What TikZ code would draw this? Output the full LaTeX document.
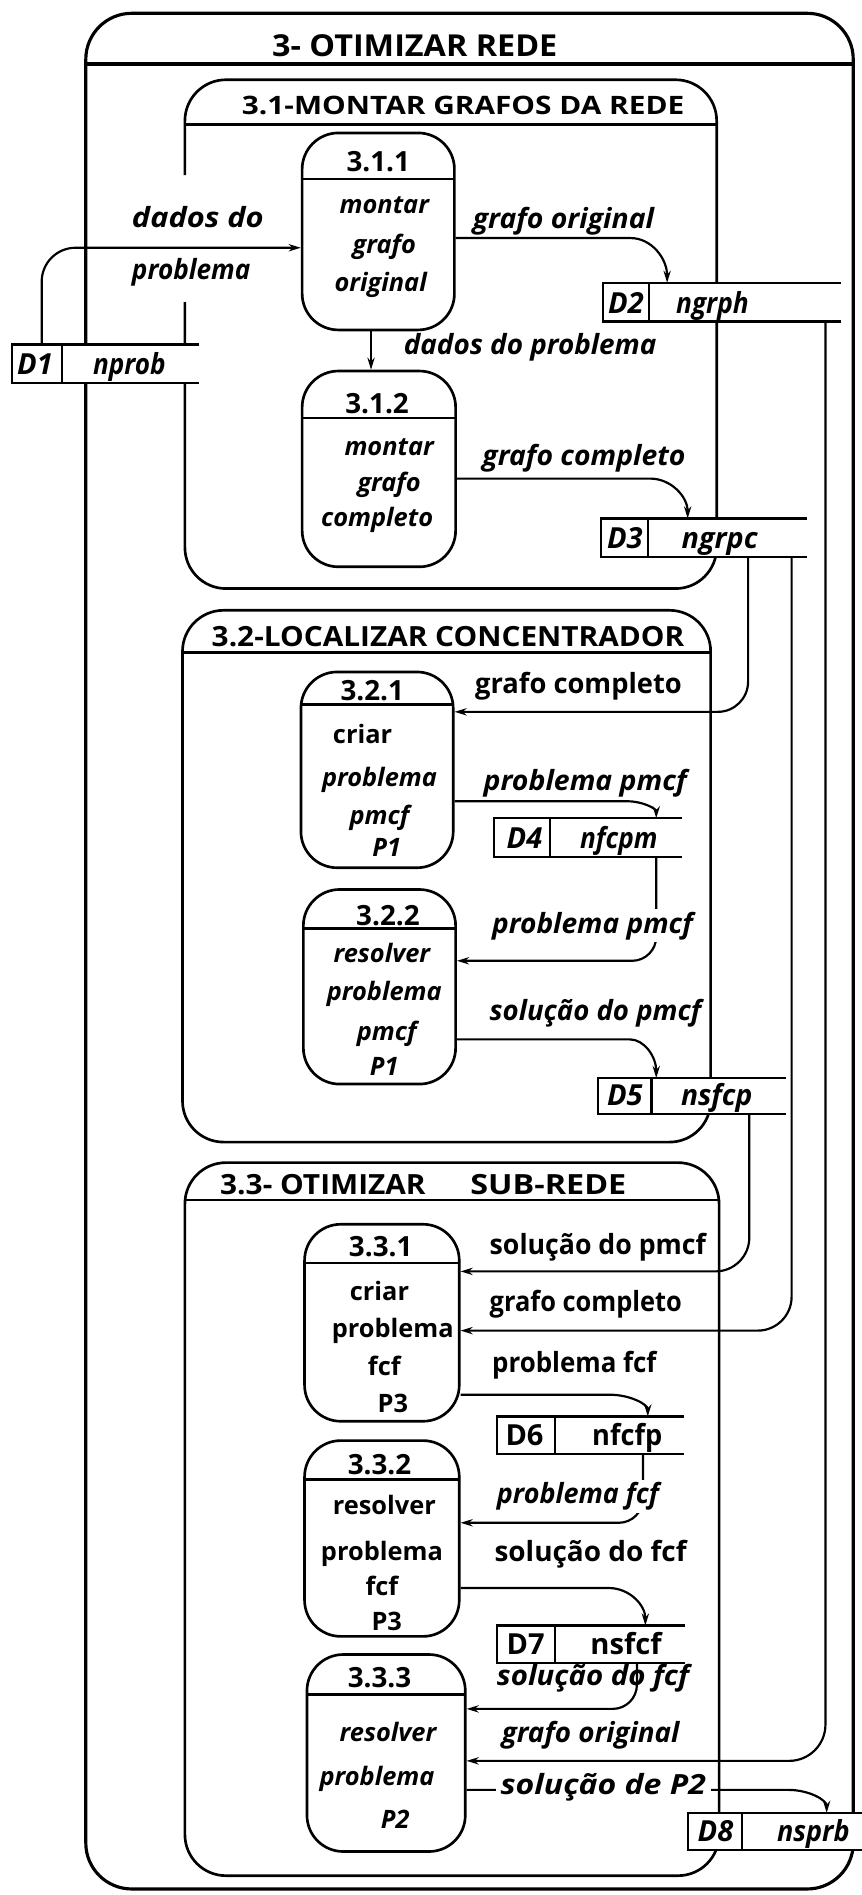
\documentclass[tikz,border=0pt]{standalone}
\usepackage{fontspec}
\setmainfont{Open Sans}
\usepackage{graphicx}
\usetikzlibrary{arrows.meta}
\newcommand\tw[2]{\resizebox{#1pt}{\height}{#2}}
\newcommand\dstore[6]{%
  \node[storebg, minimum width=#4pt, minimum height=#5pt] (#1) at (#2,#3) {};
  \draw[storeln] (#1.north east) -- (#1.north west) -- (#1.south west) -- (#1.south east);
  \draw[storeln] (#1.north west -| #6,0) -- (#1.south west -| #6,0);
}
\begin{document}
\begin{tikzpicture}[x=1pt,y=-1pt,
  frame/.style={line width=2.6pt, rounded corners=38pt},
  sbox/.style={line width=2.2pt, rounded corners=34pt},
  dline/.style={line width=2.2pt},
  proc/.style={draw, line width=2.2pt, rounded corners=30pt, inner sep=0pt,
     path picture={\draw[line width=2.2pt] ([yshift=-#1pt]path picture bounding box.north west) -- ([yshift=-#1pt]path picture bounding box.north east);}},
  flow/.style={line width=1.8pt, -{Stealth[length=10pt,width=6pt]}},
  storebg/.style={fill=white, inner sep=0pt, outer sep=0pt},
  storeln/.style={line width=1.8pt},
  txt/.style={inner sep=0pt, anchor=base},
  lbl/.style={txt, anchor=base west, font=\fontsize{23pt}{23pt}\selectfont\bfseries\itshape},
  lblu/.style={txt, anchor=base west, font=\fontsize{23pt}{23pt}\selectfont\bfseries},
  ptx/.style={txt, font=\fontsize{21pt}{21pt}\selectfont\bfseries\itshape},
  ptu/.style={txt, font=\fontsize{21pt}{21pt}\selectfont\bfseries},
  num/.style={txt, font=\fontsize{23pt}{23pt}\selectfont\bfseries},
  stx/.style={txt, font=\fontsize{24pt}{24pt}\selectfont\bfseries\itshape},
  stu/.style={txt, font=\fontsize{24pt}{24pt}\selectfont\bfseries},
  ttl/.style={inner sep=0pt, anchor=base west},
  wbg/.style={fill=white, inner xsep=4pt, inner ysep=2pt},
]
\useasboundingbox (0,0) rectangle (713,1568);
\fill[white] (0,0) rectangle (713,1568);

% ---------- outer frame ----------
\draw[frame] (71,11) rectangle (706,1563);
\draw[dline, line width=2.6pt] (71,53) -- (706,53);
\node[ttl, font=\fontsize{25pt}{25pt}\selectfont\bfseries] (t0) at (225,47) {\tw{236}{3- OTIMIZAR REDE}};

% ---------- sub frames ----------
\draw[sbox] (153,250) -- (153,487) -- (593,487) -- (593,66) -- (153,66) -- (153,145);
\draw[dline] (153,103) -- (593,103);
\node[ttl, font=\fontsize{21pt}{21pt}\selectfont\bfseries] (t31) at (200,95) {\tw{366}{3.1-MONTAR GRAFOS DA REDE}};

\draw[sbox] (151,505) rectangle (588,945);
\draw[dline] (151,540) -- (588,540);
\node[ttl, font=\fontsize{23pt}{23pt}\selectfont\bfseries] (t32) at (175,535) {\tw{391}{3.2-LOCALIZAR CONCENTRADOR}};

\draw[sbox] (153,962) rectangle (595,1552);
\draw[dline] (153,993) -- (595,993);
\node[ttl, font=\fontsize{23pt}{23pt}\selectfont\bfseries] (t33) at (182,988) {\tw{170}{3.3- OTIMIZAR}\hspace{37pt}\tw{129}{SUB-REDE}};

% ---------- processes ----------
\node[proc=38, minimum width=126pt, minimum height=163pt] (p311) at (313,191.5) {};
\node[proc=39, minimum width=127pt, minimum height=162pt] (p312) at (313.5,388) {};
\node[proc=27, minimum width=126pt, minimum height=162pt] (p321) at (312,637) {};
\node[proc=32, minimum width=126pt, minimum height=161pt] (p322) at (314,816.5) {};
\node[proc=32, minimum width=128pt, minimum height=163pt] (p331) at (316,1094.5) {};
\node[proc=32, minimum width=128pt, minimum height=162pt] (p332) at (316,1273) {};
\node[proc=33, minimum width=131pt, minimum height=163pt] (p333) at (319.5,1450.5) {};

\node[num] (n311) at (313,142) {3.1.1};
\node[ptx] (a311) at (318,177) {montar};
\node[ptx] (b311) at (318,210) {grafo};
\node[ptx] (c311) at (315,241) {original};
\node[num] (n312) at (312,342) {3.1.2};
\node[ptx] (a312) at (322,377) {montar};
\node[ptx] (b312) at (322,407) {grafo};
\node[ptx] (c312) at (312,436) {completo};
\node[num] (n321) at (308,580) {3.2.1};
\node[ptu] (a321) at (300,615) {criar};
\node[ptx] (b321) at (314,651) {problema};
\node[ptx] (c321) at (314,682) {pmcf};
\node[ptx] (d321) at (320,709) {P1};
\node[num] (n322) at (321,766) {3.2.2};
\node[ptx] (a322) at (316,796) {resolver};
\node[ptx] (b322) at (318,828) {problema};
\node[ptx] (c322) at (320,861) {pmcf};
\node[ptx] (d322) at (318,890) {P1};
\node[num] (n331) at (315,1040) {3.3.1};
\node[ptu] (a331) at (314,1076) {criar};
\node[ptu] (b331) at (325,1107) {problema};
\node[ptu] (c331) at (318,1138) {fcf};
\node[ptu] (d331) at (325,1169) {P3};
\node[num] (n332) at (314,1220) {3.3.2};
\node[ptu] (a332) at (318,1253) {resolver};
\node[ptu] (b332) at (316,1291) {problema};
\node[ptu] (c332) at (316,1320) {fcf};
\node[ptu] (d332) at (320,1349) {P3};
\node[num] (n333) at (314,1396) {3.3.3};
\node[ptx] (a333) at (321,1441) {resolver};
\node[ptx] (b333) at (312,1477) {problema};
\node[ptx] (c333) at (327,1513) {P2};

% ---------- data stores ----------
\dstore{d1}{87.5}{301}{155}{32}{51}
\dstore{d2}{597.5}{250}{197}{32}{537}
\dstore{d3}{582.5}{445}{171}{32}{536}
\dstore{d4}{486.5}{693}{155}{32}{455}
\dstore{d5}{572.5}{907}{155}{30}{539}
\dstore{d6}{488.5}{1187.5}{155}{31}{459}
\dstore{d7}{489}{1360.5}{156}{31}{459}
\dstore{d8}{641}{1515.5}{144}{31}{614}

\node[stx] (d1a) at (29,310) {D1};
\node[stx] (d1b) at (107,310) {\tw{60}{nprob}};
\node[stx] (d2a) at (518,259) {D2};
\node[stx] (d2b) at (589.5,259) {\tw{60}{ngrph}};
\node[stx] (d3a) at (517,454) {D3};
\node[stx] (d3b) at (595.5,454) {\tw{63}{ngrpc}};
\node[stx] (d4a) at (434,702) {D4};
\node[stx] (d4b) at (512,702) {\tw{64}{nfcpm}};
\node[stx] (d5a) at (517,915) {D5};
\node[stx] (d5b) at (593,915) {\tw{59}{nsfcp}};
\node[stu] (d6a) at (434,1196) {D6};
\node[stu] (d6b) at (519,1196) {\tw{58}{nfcfp}};
\node[stu] (d7a) at (435,1369) {D7};
\node[stu] (d7b) at (518,1369) {\tw{59}{nsfcf}};
\node[stx] (d8a) at (592,1524) {D8};
\node[stx] (d8b) at (673,1524) {\tw{60}{nsprb}};

% ---------- flows ----------
\draw[flow, rounded corners=28pt] (d1.north -| 34.5,0) |- (p311.west |- 0,205);
\draw[flow] (p311.east |- 0,197) -- (522,197) .. controls (538.6,197) and (552,213.4) .. (d2.north -| 552,0);
\draw[flow] (p311.south -| 307,0) -- (p312.north -| 307,0);
\draw[flow] (p312.east |- 0,396) -- (538,396) .. controls (555.1,396) and (569,410.8) .. (d3.north -| 569,0);
\draw[flow, rounded corners=25pt] (d3.south -| 619,0) |- (p321.east |- 0,589);
\draw[flow] (p321.east |- 0,663) -- (519,663) .. controls (532.2,663) and (543,669.3) .. (d4.north -| 543,0);
\draw[flow, rounded corners=20pt] (d4.south -| 543,0) |- (p322.east |- 0,795);
\draw[flow] (p322.east |- 0,860) -- (521,860) .. controls (533.1,860) and (543,874.3) .. (d5.north -| 543,0);
\draw[flow, rounded corners=28pt] (d5.south -| 620,0) |- (p331.east |- 0,1052);
\draw[flow, rounded corners=28pt] (d3.south -| 655,0) |- (p331.east |- 0,1101);
\draw[flow] (p331.east |- 0,1154) -- (504,1154) .. controls (521.7,1154) and (536,1162.1) .. (d6.north -| 536,0);
\draw[flow, rounded corners=20pt] (d6.south -| 532,0) |- (p332.east |- 0,1260);
\draw[flow] (p332.east |- 0,1314) -- (504,1314) .. controls (520.6,1314) and (534,1327.9) .. (d7.north -| 534,0);
\draw[flow, rounded corners=20pt] (d7.south -| 527,0) |- (p333.east |- 0,1414);
\draw[flow, rounded corners=30pt] (d2.south -| 683,0) |- (p333.east |- 0,1457);
\draw[flow] (p333.east |- 0,1481) -- (652,1481) .. controls (669.7,1481) and (684,1489.5) .. (d8.north -| 684,0);

% ---------- flow labels ----------
\node[lbl] (l1a) at (109,188) {\tw{109}{dados do}};
\node[lbl] (l1b) at (109,231) {\tw{98}{problema}};
\node[lbl] (l2) at (391,189) {\tw{150}{grafo original}};
\node[lbl] (l3) at (334,293) {\tw{209}{dados do problema}};
\node[lbl] (l4) at (399,385) {\tw{168}{grafo completo}};
\node[lblu] (l5) at (393,574) {\tw{171}{grafo completo}};
\node[lbl] (l6) at (400,654) {\tw{168}{problema pmcf}};
\node[lbl, wbg] (l7) at (403,772) {\tw{166}{problema pmcf}};
\node[lbl] (l8) at (405,844) {\tw{175}{solução do pmcf}};
\node[lblu] (l9) at (405,1038) {\tw{179}{solução do pmcf}};
\node[lblu] (l10) at (405,1085) {\tw{159}{grafo completo}};
\node[lblu] (l11) at (407,1136) {\tw{136}{problema fcf}};
\node[lbl, wbg] (l12) at (407,1244) {\tw{134}{problema fcf}};
\node[lblu] (l13) at (409,1292) {\tw{159}{solução do fcf}};
\node[lbl] (l14) at (411,1395) {\tw{159}{solução do fcf}};
\node[lbl] (l15) at (415,1442) {\tw{147}{grafo original}};
\node[lbl, wbg] (l16) at (410,1485) {\tw{170}{solução de P2}};
\end{tikzpicture}
\end{document}
